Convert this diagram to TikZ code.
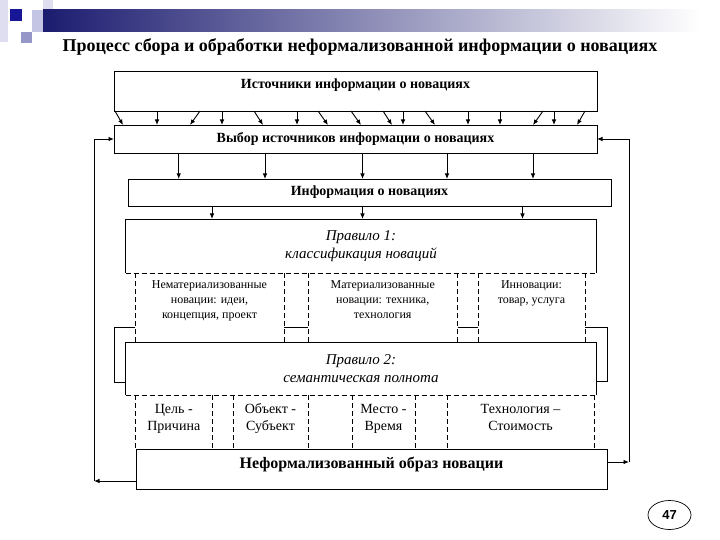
\documentclass[tikz,border=0pt]{standalone}
\usepackage{fontspec}
\setmainfont{Liberation Serif}
\newfontfamily\numfont{Liberation Sans}
\usetikzlibrary{arrows.meta,positioning,shapes.geometric}
\definecolor{barnavy}{RGB}{28,28,112}
\definecolor{sqblue}{RGB}{22,22,150}
\definecolor{lavpale}{RGB}{222,222,240}
\definecolor{lavmid}{RGB}{196,196,228}
\definecolor{lavdark}{RGB}{150,150,200}

\begin{document}
\begin{tikzpicture}[x=1pt, y=-1pt, line width=0.9pt,
  every node/.style={outer sep=0pt, inner sep=0pt},
  bar/.style={draw, font=\fontsize{14}{16}\selectfont\bfseries},
  rulebox/.style={minimum width=471pt, minimum height=53pt, align=center, font=\fontsize{15}{18}\selectfont\itshape},
  part/.style={dash pattern=on 5pt off 3pt},
  parttext/.style={anchor=north, align=center, font=\fontsize{12}{15}\selectfont},
  pairtext/.style={anchor=north, align=center, font=\fontsize{14}{17}\selectfont},
  arr/.style={-{Latex[length=5.5pt,width=4.5pt]}}]
\useasboundingbox (0,0) rectangle (720,540);

\fill[lavpale] (0,0) rectangle (8,42);
\fill[sqblue] (10,9) rectangle (22,21);
\fill[lavpale] (43,0) rectangle (53,10);
\fill[lavmid] (32,10) rectangle (43,32);
\fill[lavdark] (21,32) rectangle (32,43);
\shade[left color=barnavy, right color=white] (43,10) rectangle (700,32);

\node[font=\fontsize{18}{21}\selectfont\bfseries] (title) at (360,47) {Процесс сбора и обработки неформализованной информации о новациях};

\node[bar, minimum width=483pt, minimum height=40pt, text height=10pt, text depth=15pt] (src) at (355.5,91) {Источники информации о новациях};
\node[bar, minimum width=483pt, minimum height=28pt] (sel) at (355.5,139) {Выбор источников информации о новациях};
\node[bar, minimum width=483pt, minimum height=27pt] (info) at (369.5,192.5) {Информация о новациях};

\node[rulebox, minimum height=54pt] (r1) at (361,246) {Правило 1:\\классификация новаций};
\node[rulebox] (r2) at (361,368.5) {Правило 2:\\семантическая полнота};
\draw (r1.south west) |- (r1.north east) -- (r1.south east);
\draw[part] (r1.south west) -- (r1.south east);
\draw (r2.south west) |- (r2.north east) -- (r2.south east);
\draw[part] (r2.south west) -- (r2.south east);

\node[parttext, minimum width=149pt] (nonmat) at (209.5,281) {Нематериализованные\\новации: идеи,\\концепция, проект};
\node[parttext, minimum width=149.5pt] (mat) at (382.75,281) {Материализованные\\новации: техника,\\технология};
\node[parttext, minimum width=107pt] (innov) at (531.5,281) {Инновации:\\товар, услуга};

\node[pairtext, minimum width=76.4pt] (goal) at (173.8,402) {\strut Цель -\\Причина};
\node[pairtext, minimum width=75pt] (obj) at (270.5,402) {\strut Объект -\\Субъект};
\node[pairtext, minimum width=63pt] (place) at (383.5,402) {\strut Место -\\Время};
\node[pairtext, minimum width=147pt] (tech) at (520.5,402) {\strut Технология –\\Стоимость};

\node[bar, minimum width=471pt, minimum height=40pt, font=\fontsize{16}{18}\selectfont\bfseries, text height=11pt, text depth=12.5pt] (img) at (371.5,469) {Неформализованный образ новации};

\foreach \n in {nonmat,mat,innov}
  \draw[part] (\n.west |- r1.south) -- (\n.west |- r2.north) (\n.east |- r1.south) -- (\n.east |- r2.north);
\foreach \n in {goal,obj,place,tech}
  \draw[part] (\n.west |- r2.south) -- (\n.west |- img.north) (\n.east |- r2.south) -- (\n.east |- img.north);

\coordinate (link) at (0,327);
\coordinate (lb) at (114,382);
\coordinate (rb) at (607,381);
\draw (nonmat.east |- link) -- (mat.west |- link);
\draw (mat.east |- link) -- (innov.west |- link);
\draw (nonmat.west |- link) -| (lb) -- (r2.west |- lb);
\draw (innov.east |- link) -| (rb) -- (r2.east |- rb);

\foreach \a/\b in {115/123,157/157,200/190,222/222,254/263,297/297,318/328,351/361,383/392,403/403,425/435,468/468,500/500,543/533,554/554,585/577}
  \draw[arr] (\a,0 |- src.south) -- (\b,0 |- sel.north);
\foreach \x in {178.7,265,362.5,447,533}
  \draw[arr] (\x,0 |- sel.south) -- (\x,0 |- info.north);
\foreach \x in {212,362.5,522.5}
  \draw[arr] (\x,0 |- info.south) -- (\x,0 |- r1.north);

\coordinate (lc) at (94,481);
\coordinate (rc) at (629,462);
\draw[arr] (img.west |- lc) -- (lc);
\draw[arr] (lc) |- (sel.west);
\draw[arr] (img.east |- rc) -- (rc);
\draw[arr] (rc) |- (sel.east);

\node[draw, ellipse, line width=0.7pt, minimum width=43pt, minimum height=29pt, font=\numfont\bfseries\fontsize{13}{15}\selectfont] (page) at (669.5,515) {47};
\end{tikzpicture}
\end{document}
